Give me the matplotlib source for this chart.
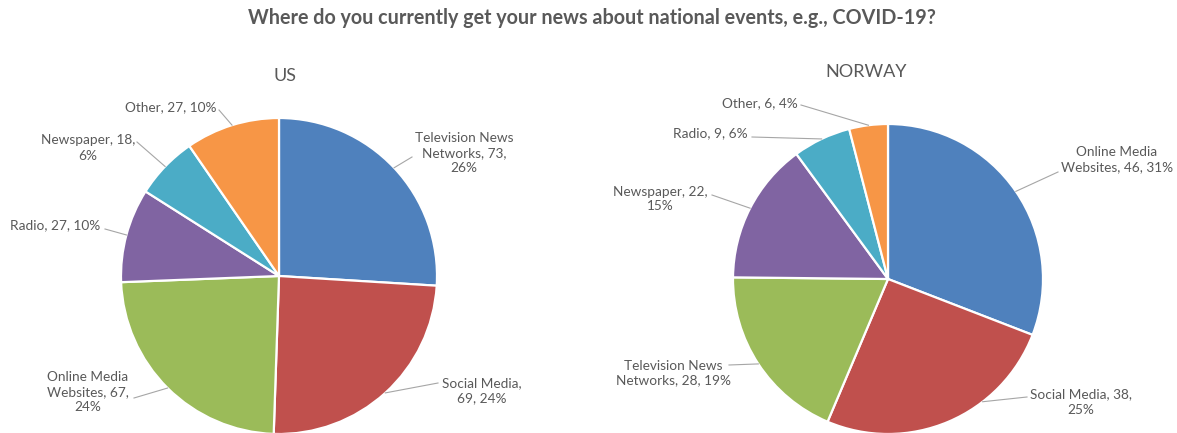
import matplotlib
matplotlib.use("Agg")
import matplotlib.pyplot as plt
import numpy as np

plt.rcParams["font.family"] = ["Lato", "DejaVu Sans"]

TITLE = "Where do you currently get your news about national events, e.g., COVID-19?"

# US responses (clockwise from 12 o'clock)
us_categories = ["Television News Networks", "Social Media", "Online Media Websites",
                 "Radio", "Newspaper", "Other"]
us_counts = [73, 69, 67, 27, 18, 27]
us_percent = [26, 24, 24, 10, 6, 10]

# Norway responses (clockwise from 12 o'clock)
no_categories = ["Online Media Websites", "Social Media", "Television News Networks",
                 "Newspaper", "Radio", "Other"]
no_counts = [46, 38, 28, 22, 9, 6]
no_percent = [31, 25, 19, 15, 6, 4]

slice_colors = ["#4F81BD", "#C0504D", "#9BBB59", "#8064A2", "#4BACC6", "#F79646"]

W, H = 1177, 433
fig = plt.figure(figsize=(W / 100, H / 100), dpi=100)
ax = fig.add_axes([0, 0, 1, 1])
ax.set_xlim(0, W)
ax.set_ylim(H, 0)
ax.set_aspect("equal")
ax.axis("off")

TXT = "#595959"


def data_label(category, count, pct, breaks):
    """Build 'Category, n, p%' and wrap it at the given word indices."""
    words = f"{category}, {count}, {pct}%".split(" ")
    lines, cur = [], []
    for i, wd in enumerate(words):
        if i in breaks and cur:
            lines.append(" ".join(cur))
            cur = []
        cur.append(wd)
    lines.append(" ".join(cur))
    return "\n".join(lines)


def draw_pie(center, radius, categories, counts, percents, label_specs):
    cx, cy = center
    wedges, _ = ax.pie(counts, colors=slice_colors, startangle=90, counterclock=False,
                       center=(cx, -cy), radius=radius,
                       wedgeprops=dict(edgecolor="white", linewidth=1.6),
                       frame=False)
    # the axis runs top-down, so mirror each wedge about the horizontal
    for w in wedges:
        w.set_center((cx, cy))
        t1, t2 = w.theta1, w.theta2
        w.set_theta1(-t2)
        w.set_theta2(-t1)
    for w, cat, n, p, (tx, ty, lx, ly, frac, breaks) in zip(
            wedges, categories, counts, percents, label_specs):
        # frac runs clockwise through the slice: 0 = leading edge, 0.5 = middle
        ang = np.deg2rad(w.theta1 + frac * (w.theta2 - w.theta1))
        px = cx + radius * np.cos(ang)
        py = cy + radius * np.sin(ang)
        ax.plot([lx, px], [ly, py], color="#A6A6A6", lw=0.8, zorder=3)
        ax.text(tx, ty, data_label(cat, n, p, breaks), ha="center", va="center",
                fontsize=9.8, color=TXT, linespacing=1.3, zorder=4)


# (text x, text y, leader start x, leader start y, anchor position in slice, line breaks)
us_specs = [
    (464, 153, 412, 157, 0.5, {2, 4}),
    (482, 391, 438, 383, 0.5, {2}),
    (88, 392, 134, 398, 0.5, {2, 4}),
    (55, 225, 105, 229, 0.5, set()),
    (88, 148, 137, 142, 0.5, {2}),
    (171, 107, 219, 110, 0.5, set()),
]
no_specs = [
    (1117, 160, 1058, 172, 0.5, {2}),
    (1081, 402, 1027, 397, 0.34, {3}),
    (673, 373, 729, 365, 0.5, {2}),
    (660, 199, 712, 195, 0.5, {2}),
    (710, 133, 752, 137, 0.5, set()),
    (760, 103, 801, 105, 0.5, set()),
]

draw_pie((279, 276), 158, us_categories, us_counts, us_percent, us_specs)
draw_pie((888, 279), 155, no_categories, no_counts, no_percent, no_specs)

ax.text(592, 18, TITLE, ha="center", va="center", fontsize=14.2,
        fontweight="bold", color=TXT)
ax.text(285, 76, "US", ha="center", va="center", fontsize=13, color=TXT)
ax.text(866, 72, "NORWAY", ha="center", va="center", fontsize=13, color=TXT)

ax.set_xlim(0, W)
ax.set_ylim(H, 0)
fig.savefig("out.png", dpi=100, facecolor="white")
